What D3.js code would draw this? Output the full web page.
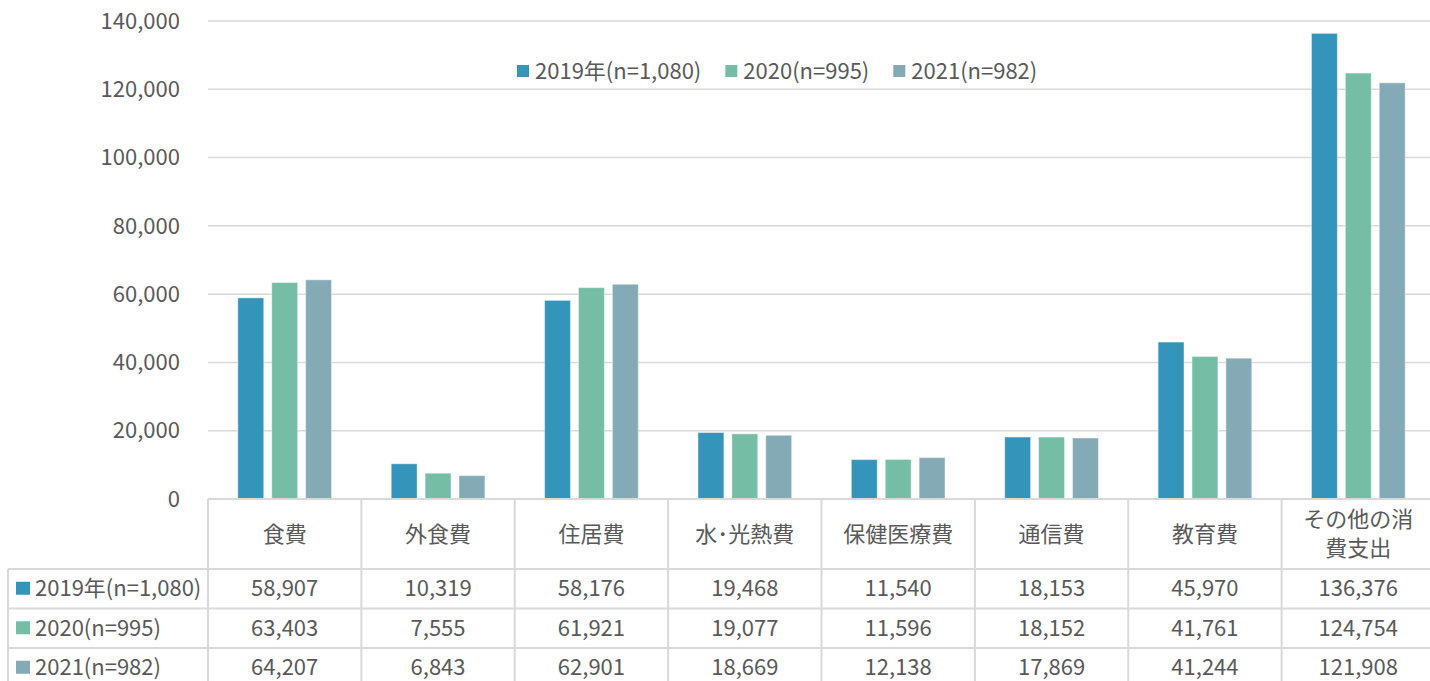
<!DOCTYPE html>
<html><head><meta charset="utf-8">
<script src="https://cdn.jsdelivr.net/npm/d3@7"></script>
<style>body{margin:0;background:#fff;}svg{display:block;}</style>
</head><body>
<svg id="c" width="1430" height="681"></svg>
<script>
const categories = ["食費","外食費","住居費","水･光熱費","保健医療費","通信費","教育費","その他の消費支出"];
const categoryLines = [["食費"],["外食費"],["住居費"],["水･光熱費"],["保健医療費"],["通信費"],["教育費"],["その他の消","費支出"]];
const seriesNames = ["2019年(n=1,080)","2020(n=995)","2021(n=982)"];
const values2019 = [58907,10319,58176,19468,11540,18153,45970,136376];
const values2020 = [63403,7555,61921,19077,11596,18152,41761,124754];
const values2021 = [64207,6843,62901,18669,12138,17869,41244,121908];
const yTicks = [0,20000,40000,60000,80000,100000,120000,140000];
const colors = ["#3594BA","#76BDA6","#84ABB5"];
const seriesValues = [values2019, values2020, values2021];

(function(){
const svg = d3.select("#c");
const font = "'Noto Sans CJK JP','Noto Sans',sans-serif";
const textColor = "#595959";
const lineColor = "#D9D9D9";
const fs = 22;

const plotLeft = 208, plotRight = 1435, plotTop = 21, base = 499;
const y = d3.scaleLinear().domain([0,140000]).range([base, plotTop]);
const x0 = d3.scaleBand().domain(categories).range([plotLeft, plotRight]).paddingInner(0).paddingOuter(0);
const x1 = d3.scaleBand().domain(seriesNames).range([0, x0.bandwidth()]).paddingInner(0.235).paddingOuter(0.88);

svg.append("g").selectAll("line").data(yTicks.filter(d=>d>0)).join("line")
  .attr("x1", plotLeft).attr("x2", plotRight)
  .attr("y1", d=>y(d)).attr("y2", d=>y(d))
  .attr("stroke", lineColor).attr("stroke-width", 1.5);

const fmt = d3.format(",");
svg.append("g").selectAll("text").data(yTicks).join("text")
  .attr("x", 180).attr("y", d=>y(d)).attr("dy","0.35em")
  .attr("text-anchor","end").attr("font-family",font).attr("font-size",fs)
  .attr("fill",textColor).text(d=>fmt(d));

seriesNames.forEach((s,si)=>{
  svg.append("g").selectAll("rect").data(categories).join("rect")
    .attr("x", c=>x0(c)+x1(s)).attr("width", x1.bandwidth())
    .attr("y", (c,i)=>y(seriesValues[si][i]))
    .attr("height", (c,i)=>base - y(seriesValues[si][i]))
    .attr("fill", colors[si]).attr("stroke","#ffffff").attr("stroke-opacity",0.45).attr("stroke-width",1);
});

const lg = svg.append("g");
let lx = 517;
seriesNames.forEach((s,si)=>{
  lg.append("rect").attr("x",lx).attr("y",65).attr("width",12).attr("height",12).attr("fill",colors[si]);
  const t = lg.append("text").attr("x",lx+18).attr("y",71).attr("dy","0.35em")
    .attr("font-family",font).attr("font-size",fs).attr("fill",textColor).text(s);
  lx += 18 + t.node().getComputedTextLength() + 24;
});

const headerBottom = 569, rowH = 39.5, tableLeft = 8;
const tg = svg.append("g");
const colEdges = categories.map(c=>x0(c)).concat([plotRight]);
tg.append("line").attr("x1",plotLeft).attr("x2",plotRight).attr("y1",base).attr("y2",base).attr("stroke",lineColor).attr("stroke-width",2);
[0,1,2].forEach(i=>{
  const yy = headerBottom + i*rowH;
  tg.append("line").attr("x1",tableLeft).attr("x2",plotRight).attr("y1",yy).attr("y2",yy).attr("stroke",lineColor).attr("stroke-width",2);
});
colEdges.forEach(xx=>{
  tg.append("line").attr("x1",xx).attr("x2",xx).attr("y1",base).attr("y2",700).attr("stroke",lineColor).attr("stroke-width",2);
});
tg.append("line").attr("x1",tableLeft).attr("x2",tableLeft).attr("y1",headerBottom).attr("y2",700).attr("stroke",lineColor).attr("stroke-width",2);

categories.forEach((c,i)=>{
  const lines = categoryLines[i];
  const cx = x0(c) + x0.bandwidth()/2;
  const cy = (base+headerBottom)/2;
  const lh = 29;
  lines.forEach((ln,j)=>{
    tg.append("text").attr("x",cx).attr("y", cy + (j-(lines.length-1)/2)*lh).attr("dy","0.35em")
      .attr("text-anchor","middle").attr("font-family",font).attr("font-size",fs)
      .attr("fill",textColor).text(ln);
  });
});

seriesNames.forEach((s,si)=>{
  const cy = headerBottom + si*rowH + rowH/2;
  tg.append("rect").attr("x",16).attr("y",cy-7).attr("width",14).attr("height",13).attr("fill",colors[si]);
  tg.append("text").attr("x",35).attr("y",cy).attr("dy","0.35em")
    .attr("font-family",font).attr("font-size",fs).attr("fill",textColor).text(s);
  categories.forEach((c,i)=>{
    tg.append("text").attr("x",x0(c)+x0.bandwidth()/2).attr("y",cy).attr("dy","0.35em")
      .attr("text-anchor","middle").attr("font-family",font).attr("font-size",fs)
      .attr("fill",textColor).text(fmt(seriesValues[si][i]));
  });
});
})();
</script>
</body></html>
